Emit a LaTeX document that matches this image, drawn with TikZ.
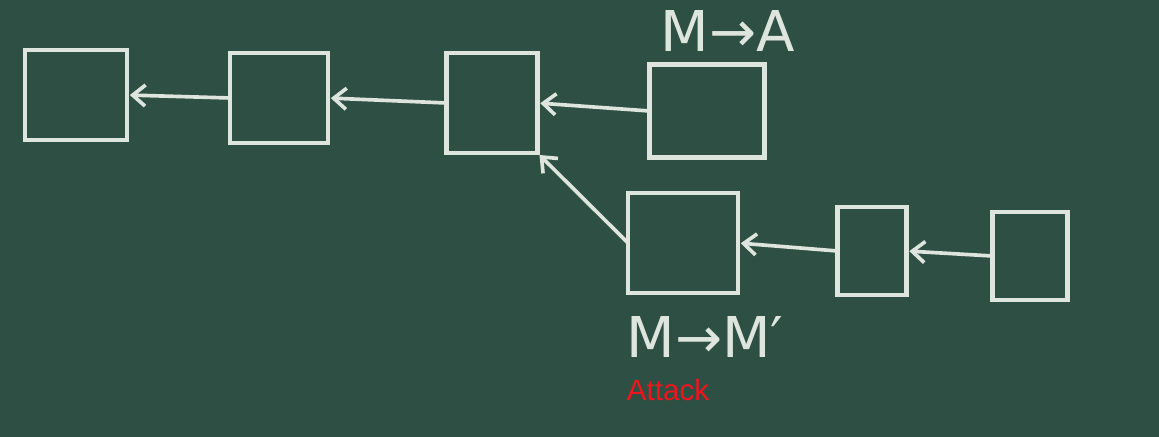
\documentclass[tikz,border=0pt]{standalone}
\usepackage{fontspec}
\setmainfont{DejaVu Sans}
\newfontfamily\attackfont{Liberation Sans}
\usepackage{tikz}
\usetikzlibrary{arrows.meta,positioning}
\definecolor{board}{RGB}{46,80,68}
\definecolor{chalk}{RGB}{222,228,222}
\definecolor{attackred}{RGB}{240,20,30}
\tikzset{
  chalkbox/.style={draw=chalk, line width=3pt, inner sep=0pt, outer sep=0pt},
  chalkarrow/.style={-{Straight Barb[length=9pt,width=15pt]}, draw=chalk, line width=2.6pt, shorten >=2pt},
  chalktext/.style={text=chalk, font=\fontsize{40}{46}\selectfont, inner sep=0pt}
}

\begin{document}
\begin{tikzpicture}
  %% Board
  \fill[board] (0,0) rectangle (28.975,10.925);
  \useasboundingbox (0,0) rectangle (28.975,10.925);

  %% Upper chain
  \node[chalkbox, minimum width=2.55cm, minimum height=2.25cm] (b1) at (1.9,8.55) {};
  \node[chalkbox, minimum width=2.45cm, minimum height=2.25cm] (b2) at (6.975,8.475) {};
  \node[chalkbox, minimum width=2.275cm, minimum height=2.5cm] (b3) at (12.3,8.35) {};
  \node[chalkbox, minimum width=2.875cm, minimum height=2.325cm] (b4) at (17.675,8.15) {};

  %% Lower chain
  \node[chalkbox, minimum width=2.75cm, minimum height=2.5cm] (b5) at (17.075,4.85) {};
  \node[chalkbox, minimum width=1.725cm, minimum height=2.2cm] (b6) at (21.8,4.65) {};
  \node[chalkbox, minimum width=1.875cm, minimum height=2.2cm] (b7) at (25.75,4.525) {};

  \draw[chalkarrow] (b2.west) -- (b1.east);
  \draw[chalkarrow] (b3.west) -- (b2.east);
  \draw[chalkarrow] (b4.west) -- (b3.east);
  \draw[chalkarrow] (b5.west) -- (b3.south east);
  \draw[chalkarrow] (b6.west) -- (b5.east);
  \draw[chalkarrow] (b7.west) -- (b6.east);

  %% Labels
  \node[chalktext] (lbla) at (18.2,10.15) {M→A};
  \node[chalktext] (lblm) at (17.625,2.5) {M→M′};
  \node[text=attackred, font=\attackfont\fontsize{21}{25}\selectfont, inner sep=0pt] (attack) at (16.7,1.175) {Attack};
\end{tikzpicture}
\end{document}
